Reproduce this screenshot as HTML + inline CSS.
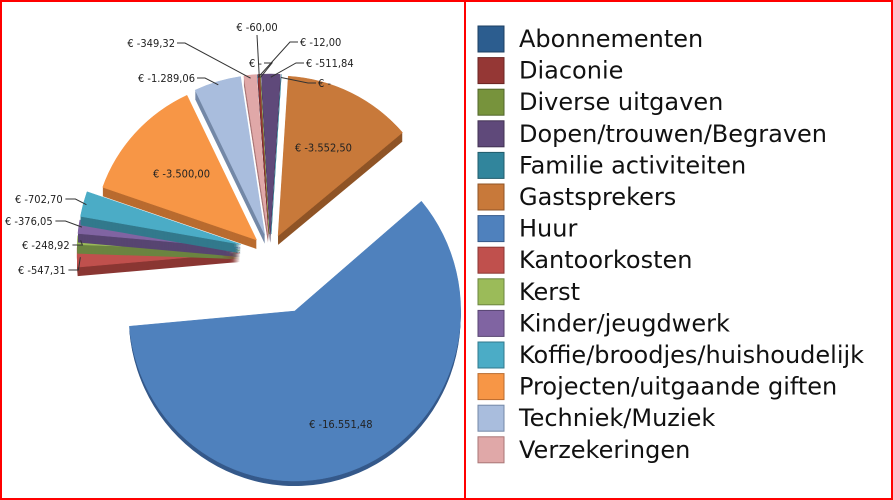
<!DOCTYPE html>
<html><head><meta charset="utf-8"><style>
body{margin:0;background:#fff;}
#wrap{position:relative;width:893px;height:500px;overflow:hidden;}
svg{position:absolute;left:0;top:0;}
</style></head><body>
<div id="wrap">
<svg id="chart" width="893" height="500"></svg>
</div>
<script>
const categories=["Abonnementen","Diaconie","Diverse uitgaven","Dopen/trouwen/Begraven","Familie activiteiten","Gastsprekers","Huur","Kantoorkosten","Kerst","Kinder/jeugdwerk","Koffie/broodjes/huishoudelijk","Projecten/uitgaande giften","Techniek/Muziek","Verzekeringen"];
const values=[12,60,0,511.84,0,3552.5,16551.48,547.31,248.92,376.05,702.70,3500,1289.06,349.32];
const labels=["€ -12,00","€ -60,00","€ -","€ -511,84","€ -","€ -3.552,50","€ -16.551,48","€ -547,31","€ -248,92","€ -376,05","€ -702,70","€ -3.500,00","€ -1.289,06","€ -349,32"];
const colors=["#2c5d8f","#953735","#77933c","#5f497a","#31859c","#c8793a","#4f81bd","#c0504d","#9bbb59","#8064a2","#4bacc6","#f79646","#a9bddd","#e0a8a8"];
const sides=["#1d3f62","#6a2523","#51652a","#413252","#215c6b","#8f5426","#35598a","#8a3633","#6b8440","#574571","#32798c","#b96b2f","#7488a7","#a97676"];
// label layout (x, y, anchor) — layout only, not data
const labelPos=[[300,46,'start'],[257,31,'middle'],[262,67,'end'],[306,67,'start'],[318,87,'start'],[0,0,'in'],[0,0,'in'],[18,274,'start'],[22,249,'start'],[5,225,'start'],[15,203,'start'],[0,0,'in'],[195,82,'end'],[175,47,'end']];
const NS="http://www.w3.org/2000/svg";
const svg=document.getElementById('chart');
function mk(t,a){const e=document.createElementNS(NS,t);for(const k in a)e.setAttribute(k,a[k]);return e;}
const cx=270,cy=252,rx=163,ry=160,depth=9,explode=18,rot=-4*Math.PI/180;
const total=values.reduce((a,b)=>a+b,0);
function pt(a,RX,RY,ox,oy){return [ox+Math.sin(a)*RX, oy-Math.cos(a)*RY];}
function sector(a0,a1,RX,RY,ox,oy){
  const p0=pt(a0,RX,RY,ox,oy),p1=pt(a1,RX,RY,ox,oy);const large=(a1-a0)>Math.PI?1:0;
  if(a1-a0<0.004){return `M${ox},${oy}L${p0[0]},${p0[1]}Z`;}
  return `M${ox},${oy}L${p0[0]},${p0[1]}A${RX},${RY} 0 ${large} 1 ${p1[0]},${p1[1]}Z`;
}
let acc=0;const slices=[];
values.forEach((v,i)=>{const a0=acc/total*2*Math.PI+rot;acc+=v;const a1=acc/total*2*Math.PI+rot;slices.push({i,a0,a1});});
const g=mk('g',{});svg.appendChild(g);
slices.forEach(s=>{
  const mid=(s.a0+s.a1)/2;const big=values[s.i]/total>0.4;
  const left=s.i>=7&&s.i<=10;
  const ex=big?64:(left?30:explode);
  const RX=big?166:rx, RY=big?170:ry;
  const ox=cx+Math.sin(mid)*ex,oy=cy-Math.cos(mid)*ex;
  const grp=mk('g',{});
  
  
  const d=big?5:depth;
  for(let k=d;k>=1;k--){grp.appendChild(mk('path',{d:sector(s.a0,s.a1,RX,RY,ox,oy+k),fill:sides[s.i]}));}
  grp.appendChild(mk('path',{d:sector(s.a0,s.a1,RX,RY,ox,oy),fill:colors[s.i],stroke:colors[s.i],'stroke-width':0.5}));
  g.appendChild(grp);
  Object.assign(s,{ox,oy,mid,RX,RY});
});
slices.forEach(s=>{
  const lp=labelPos[s.i];let t;
  if(lp[2]==='in'){
    const r=values[s.i]/total>0.4?0.72:0.62;
    const p=pt(s.mid,s.RX*r,s.RY*r,s.ox,s.oy);
    t=mk('text',{x:p[0],y:p[1]+4,'text-anchor':'middle','font-size':11,fill:'#222','font-family':'DejaVu Sans Condensed, DejaVu Sans, sans-serif'});
  } else {
    const e=pt(s.mid,s.RX*0.98,s.RY*0.98,s.ox,s.oy);
    const w=labels[s.i].length*5.6;
    const lx=lp[2]==='start'?lp[0]-2:(lp[2]==='end'?lp[0]+2:lp[0]);
    const sx=lp[2]==='middle'?lp[0]:(lp[2]==='start'?lx-8:lx+8);
    const sy=lp[2]==='middle'?lp[1]+4:lp[1]-4;
    const pts=lp[2]==='middle'?`${sx},${sy} ${e[0]},${e[1]}`:`${lx},${sy} ${sx},${sy} ${e[0]},${e[1]}`;
    const line=mk('polyline',{points:pts,fill:'none',stroke:'#333','stroke-width':1});
    
    
    svg.appendChild(line);
    t=mk('text',{x:lp[0],y:lp[1],'text-anchor':lp[2],'font-size':11,fill:'#222','font-family':'DejaVu Sans Condensed, DejaVu Sans, sans-serif'});
    if(s.i>=7&&s.i<=10){
      t.setAttribute('text-anchor','start');
      line.setAttribute('points',`${lp[0]+w},${lp[1]-4} ${lp[0]+w+10},${lp[1]-4} ${e[0]},${e[1]}`);
    }
  }
  t.textContent=labels[s.i];
  
  
  svg.appendChild(t);
});
const lg=mk('g',{});svg.appendChild(lg);
categories.forEach((c,i)=>{
  const y=26+i*31.6;
  const e=mk('g',{});
  
  
  e.appendChild(mk('rect',{x:478,y:y,width:26,height:26,fill:colors[i],stroke:sides[i],'stroke-width':1}));
  const t=mk('text',{x:519,y:y+21,'font-size':24,fill:'#111','font-family':'DejaVu Sans, sans-serif'});
  t.textContent=c;e.appendChild(t);lg.appendChild(e);
});
const fr=mk('rect',{x:1,y:1,width:891,height:498,fill:'none',stroke:'#f00','stroke-width':2});
svg.appendChild(fr);
const dv=mk('line',{x1:465,y1:0,x2:465,y2:500,stroke:'#f00','stroke-width':2});
svg.appendChild(dv);
</script>
</body></html>
